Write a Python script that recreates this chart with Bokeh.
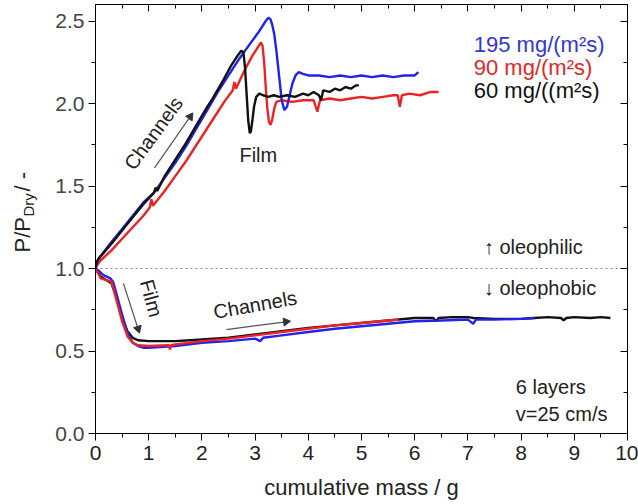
import math
from bokeh.plotting import figure
from bokeh.layouts import row
from bokeh.models import (Range1d, SingleIntervalTicker, LinearAxis, PrintfTickFormatter,
                          Label, CustomJSTickFormatter)
from bokeh.embed import file_html
from bokeh.resources import INLINE

FONT = "Liberation Sans"

# ---------------- data ----------------
up_black_x = [0, 0.02, 0.06, 0.3, 0.5, 0.7, 0.9, 1.1, 1.13, 1.16, 1.3, 1.5, 1.7, 1.9, 2.1, 2.2, 2.4, 2.55, 2.65,
              2.74, 2.78, 2.81, 2.84, 2.87, 2.9, 2.92, 2.95, 2.98, 3.02, 3.08, 3.15, 3.25, 3.35, 3.45, 3.6, 3.75,
              3.9, 4.0, 4.1, 4.2, 4.24, 4.28, 4.4, 4.5, 4.6, 4.7, 4.8, 4.9, 4.95]
up_black_y = [1.00, 1.04, 1.06, 1.15, 1.23, 1.31, 1.39, 1.46, 1.49, 1.47, 1.56, 1.66, 1.76, 1.87, 1.98, 2.03, 2.14,
              2.23, 2.28, 2.32, 2.31, 2.22, 2.06, 1.90, 1.82, 1.83, 1.90, 1.98, 2.04, 2.06, 2.05, 2.04, 2.05,
              2.04, 2.05, 2.04, 2.06, 2.05, 2.07, 2.05, 2.02, 2.08, 2.07, 2.09, 2.08, 2.10, 2.09, 2.11, 2.11]

up_blue_x = [0, 0.02, 0.06, 0.3, 0.5, 0.7, 0.9, 1.1, 1.3, 1.5, 1.7, 1.9, 2.1, 2.3, 2.5, 2.7, 2.9, 3.06, 3.2,
             3.25, 3.29, 3.32, 3.36, 3.4, 3.45, 3.5, 3.55, 3.6, 3.65, 3.7, 3.76, 3.82, 3.9, 4.0, 4.2, 4.4, 4.6,
             4.8, 5.0, 5.2, 5.4, 5.6, 5.8, 6.0, 6.07]
up_blue_y = [1.00, 1.03, 1.06, 1.16, 1.24, 1.32, 1.40, 1.46, 1.55, 1.64, 1.74, 1.85, 1.96, 2.07, 2.17, 2.27,
             2.36, 2.43, 2.50, 2.52, 2.51, 2.48, 2.42, 2.32, 2.17, 2.02, 1.96, 1.98, 2.05, 2.12, 2.17, 2.19,
             2.18, 2.17, 2.17, 2.16, 2.17, 2.16, 2.17, 2.16, 2.17, 2.16, 2.17, 2.17, 2.19]

up_red_x = [0, 0.05, 0.1, 0.3, 0.5, 0.7, 0.9, 1.02, 1.05, 1.08, 1.3, 1.5, 1.7, 1.9, 2.1, 2.3, 2.42, 2.58, 2.61,
            2.64, 2.8, 2.95, 3.05, 3.11, 3.14, 3.17, 3.2, 3.23, 3.26, 3.29, 3.32, 3.36, 3.4, 3.5, 3.7, 3.9,
            4.1, 4.17, 4.22, 4.4, 4.6, 4.8, 5.0, 5.2, 5.4, 5.6, 5.68, 5.72, 5.76, 5.9, 6.1, 6.3, 6.45]
up_red_y = [1.00, 1.03, 1.05, 1.11, 1.18, 1.25, 1.32, 1.37, 1.42, 1.38, 1.47, 1.56, 1.65, 1.75, 1.85, 1.95,
            2.01, 2.08, 2.13, 2.09, 2.20, 2.29, 2.34, 2.37, 2.35, 2.25, 2.10, 1.97, 1.89, 1.87, 1.90, 1.97,
            2.01, 2.02, 2.01, 2.02, 2.02, 1.95, 2.02, 2.03, 2.02, 2.03, 2.04, 2.03, 2.04, 2.05, 2.05, 1.98,
            2.05, 2.06, 2.05, 2.07, 2.07]

lo_black_x = [0, 0.1, 0.2, 0.3, 0.4, 0.5, 0.6, 0.7, 0.8, 1.0, 1.5, 2.0, 2.5, 3.0, 3.5, 4.0, 4.5, 5.0, 5.5,
              6.0, 6.35, 6.4, 6.45, 6.7, 7.0, 7.1, 7.5, 8.0, 8.25, 8.5, 8.75, 8.8, 8.85, 9.0, 9.3, 9.5, 9.68]
lo_black_y = [1.00, 0.95, 0.93, 0.91, 0.82, 0.70, 0.62, 0.58, 0.565, 0.56, 0.56, 0.57, 0.58, 0.60, 0.62,
              0.64, 0.655, 0.67, 0.685, 0.70, 0.70, 0.68, 0.70, 0.705, 0.705, 0.70, 0.695, 0.695, 0.70, 0.705,
              0.70, 0.685, 0.70, 0.705, 0.70, 0.705, 0.70]

lo_blue_x = [0, 0.05, 0.15, 0.28, 0.33, 0.4, 0.5, 0.6, 0.7, 0.8, 0.9, 1.0, 1.5, 2.0, 2.5, 3.0, 3.1, 3.15,
             3.5, 4.0, 4.5, 5.0, 5.5, 6.0, 6.5, 7.0, 7.1, 7.15, 7.5, 8.0, 8.25]
lo_blue_y = [1.00, 0.99, 0.96, 0.94, 0.92, 0.84, 0.72, 0.61, 0.55, 0.53, 0.52, 0.52, 0.53, 0.55, 0.56,
             0.575, 0.56, 0.58, 0.595, 0.615, 0.635, 0.65, 0.665, 0.68, 0.685, 0.69, 0.665, 0.69, 0.69,
             0.695, 0.70]

lo_red_x = [0, 0.1, 0.2, 0.3, 0.4, 0.5, 0.6, 0.7, 0.8, 1.0, 1.38, 1.4, 1.42, 1.5, 2.0, 2.5, 3.0, 3.5, 4.0,
            4.5, 5.0, 5.5, 5.7]
lo_red_y = [1.00, 0.94, 0.93, 0.92, 0.80, 0.68, 0.59, 0.55, 0.535, 0.53, 0.535, 0.51, 0.535, 0.54, 0.56,
            0.575, 0.595, 0.615, 0.635, 0.655, 0.67, 0.685, 0.69]

x_limits = [0, 10]
y_limits = [0, 2.6]
x_ticks_interval = 1
y_ticks_interval = 0.5
reference_level = 1.0

legend_texts = ["195 mg/(m²s)", "90 mg/(m²s)", "60 mg/((m²s)"]
legend_colors = ["#3535d8", "#e02828", "#111111"]

BLUE = "#2222ee"
RED = "#ee2222"
BLACK = "#111111"

p = figure(width=586, height=504, x_range=Range1d(*x_limits), y_range=Range1d(*y_limits),
           output_backend="svg", toolbar_location=None,
           min_border_left=42, min_border_right=11, min_border_top=4, min_border_bottom=71)
p.grid.visible = False
p.outline_line_color = "black"

# bottom axis: custom font
xa = p.xaxis[0]
xa.ticker = SingleIntervalTicker(interval=x_ticks_interval, num_minor_ticks=2)
xa.major_label_text_font = FONT
xa.major_label_text_color = "#222222"
xa.major_label_text_font_size = "21px"
xa.major_tick_out = 7
xa.major_tick_in = 0
xa.minor_tick_out = 4
xa.major_label_standoff = 5
xa.axis_label = "cumulative mass / g"
xa.axis_label_text_font = FONT
xa.axis_label_text_font_size = "22px"
xa.axis_label_text_font_style = "normal"
xa.axis_label_text_color = "#222222"
xa.axis_label_standoff = 12

# left axis: default font, only size
ya = p.yaxis[0]
ya.ticker = SingleIntervalTicker(interval=y_ticks_interval, num_minor_ticks=2)
ya.major_label_text_font_size = "21px"
ya.formatter = PrintfTickFormatter(format="%.1f")
ya.major_tick_out = 7
ya.major_tick_in = 0
ya.minor_tick_out = 4
ya.major_label_standoff = 4

top = LinearAxis(ticker=SingleIntervalTicker(interval=x_ticks_interval, num_minor_ticks=2),
                 formatter=CustomJSTickFormatter(code="return ''"))
top.major_tick_in = 7
top.major_tick_out = 0
top.minor_tick_in = 4
top.minor_tick_out = 0
p.add_layout(top, "above")

right = LinearAxis(ticker=SingleIntervalTicker(interval=y_ticks_interval, num_minor_ticks=2),
                   formatter=CustomJSTickFormatter(code="return ''"))
right.major_tick_in = 7
right.major_tick_out = 0
right.minor_tick_in = 4
right.minor_tick_out = 0
p.add_layout(right, "right")

p.line(x_limits, [reference_level, reference_level], line_color="#888888", line_dash="2 3", line_width=1)

LW = 2.4
p.line(lo_black_x, lo_black_y, line_color=BLACK, line_width=LW)
p.line(lo_blue_x, lo_blue_y, line_color=BLUE, line_width=LW)
p.line(lo_red_x, lo_red_y, line_color=RED, line_width=LW)
p.line(up_red_x, up_red_y, line_color=RED, line_width=LW)
p.line(up_blue_x, up_blue_y, line_color=BLUE, line_width=LW)
p.line(up_black_x, up_black_y, line_color=BLACK, line_width=LW)

def lab(fig, x, y, text, size="20px", color="#222222", angle=0, align="left", baseline="middle", units="data"):
    fig.add_layout(Label(x=x, y=y, text=text, text_font=FONT, text_font_size=size,
                         text_color=color, angle=angle, angle_units="deg",
                         text_align=align, text_baseline=baseline,
                         x_units=units, y_units=units))

for i, (t, c) in enumerate(zip(legend_texts, legend_colors)):
    lab(p, 7.11, 2.36 - i * 0.14, t, color=c, size="22px")

lab(p, 7.3, 1.13, "↑ oleophilic")
lab(p, 7.3, 0.88, "↓ oleophobic")
lab(p, 7.9, 0.28, "6 layers")
lab(p, 7.9, 0.12, "v=25  cm/s")

lab(p, 1.09, 1.82, "Channels", angle=54, align="center")
lab(p, 3.06, 1.69, "Film", align="center")
lab(p, 1.05, 0.82, "Film", angle=-75, align="center")
lab(p, 3.0, 0.78, "Channels", angle=10, align="center")

arrows = [
    (1.11, 1.61, 1.78, 1.92, 54.6),
    (0.525, 0.91, 0.80, 0.635, -72.3),
    (2.46, 0.63, 3.58, 0.677, 7.4),
]
p.segment([a[0] for a in arrows], [a[1] for a in arrows], [a[2] for a in arrows], [a[3] for a in arrows],
          line_color="#555555", line_width=1.2)
p.scatter([a[2] for a in arrows], [a[3] for a in arrows], marker="triangle", size=8,
          angle=[math.radians(a[4] - 90) for a in arrows],
          fill_color="#333333", line_color="#333333")

yl = figure(width=52, height=504, x_range=Range1d(0, 52), y_range=Range1d(0, 504),
            output_backend="svg", toolbar_location=None,
            x_axis_location=None, y_axis_location=None,
            min_border_left=0, min_border_right=0, min_border_top=0, min_border_bottom=0)
yl.grid.visible = False
yl.outline_line_color = None
lab(yl, 22, 181, "P/P", size="22px", angle=90, baseline="alphabetic", units="screen")
lab(yl, 28, 217, "Dry", size="15px", angle=90, baseline="alphabetic", units="screen")
lab(yl, 22, 242, " / -", size="22px", angle=90, baseline="alphabetic", units="screen")

layout = row(yl, p, spacing=0)
open("out.html", "w").write(file_html(layout, INLINE))
